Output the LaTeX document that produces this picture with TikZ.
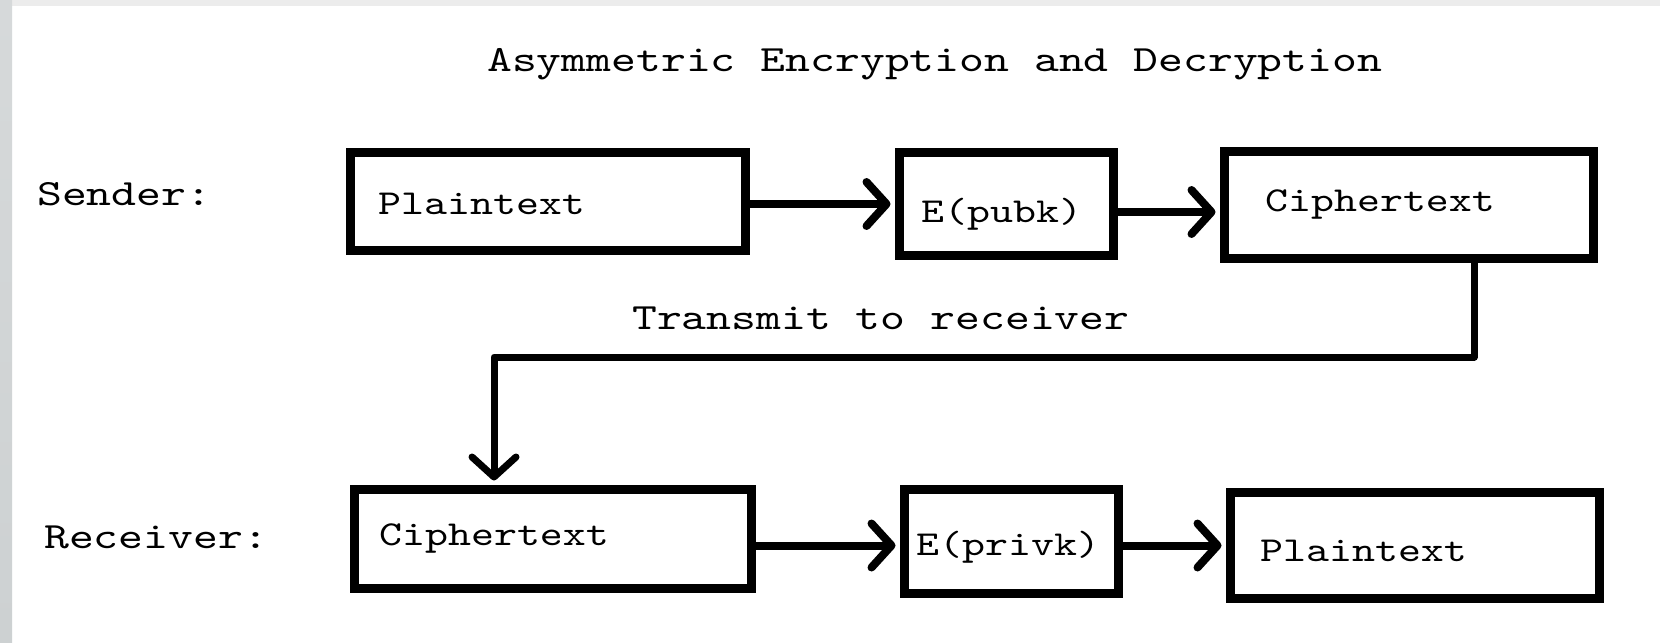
\documentclass[tikz,border=0pt]{standalone}
\usepackage{fontspec}
\usetikzlibrary{arrows.meta}
\newfontfamily\capfont[FakeStretch=1.28]{lmmono10-regular.otf}
\newfontfamily\boxfont[FakeStretch=1.25]{lmmono10-regular.otf}
\definecolor{edgegrey}{HTML}{D6D9DA}
\definecolor{edgegreylow}{HTML}{CDD1D2}
\definecolor{topgrey}{HTML}{ECECEC}
\tikzset{
  x=1bp, y=-1bp,
  box/.style={draw=black, line width=9bp, rectangle, inner sep=0pt},
  boxtext/.style={anchor=base west, inner sep=0pt, font=\boxfont\fontsize{35bp}{40bp}\selectfont},
  caption/.style={anchor=base west, inner sep=0pt, font=\capfont\fontsize{37bp}{42bp}\selectfont},
  tip/.style={-{Straight Barb[length=20bp,width=44bp,round]}, shorten >=4.5bp},
  flow/.style={line width=8bp, tip},
  relay/.style={line width=7bp, line join=round, tip}
}
\begin{document}
\begin{tikzpicture}
  % page and its grey frame
  \fill[white] (0,0) rectangle (1660,643);
  \useasboundingbox (0,0) rectangle (1660,643);
  \fill[topgrey] (0,0) rectangle (1660,6);
  \shade[top color=edgegrey, bottom color=edgegreylow] (0,0) rectangle (12,643);

  % title and row labels
  \node[caption] (title) at (487,71.3) {Asymmetric Encryption and Decryption};
  \node[caption] (sender) at (37,205.3) {Sender:};
  \node[caption] (receiver) at (44,548.3) {Receiver:};
  \node[caption] (transmit) at (632,329.3) {Transmit to receiver};

  % sender row
  \node[box, minimum width=395bp, minimum height=98bp] (p1) at (548,201.5) {};
  \node[box, minimum width=214bp, minimum height=103bp] (e1) at (1006.5,204) {};
  \node[box, minimum width=369bp, minimum height=107bp] (c1) at (1409,205) {};
  \node[boxtext] (p1t) at (378,214.7) {Plaintext};
  \node[boxtext] (e1t) at (921,222.7) {E(pubk)};
  \node[boxtext] (c1t) at (1265,211.7) {Ciphertext};

  % receiver row
  \node[box, minimum width=397bp, minimum height=99bp] (c2) at (553,539) {};
  \node[box, minimum width=214bp, minimum height=104bp] (e2) at (1011.5,541.5) {};
  \node[box, minimum width=369bp, minimum height=106bp] (p2) at (1415,545.5) {};
  \node[boxtext] (c2t) at (379,545.7) {Ciphertext};
  \node[boxtext] (e2t) at (916,555.7) {E(privk)};
  \node[boxtext] (p2t) at (1260,561.7) {Plaintext};

  % sender flow
  \draw[flow] (p1.east |- e1.west) -- (e1.west);
  \draw[flow] ([yshift=-8bp]e1.east) -- ([yshift=-8bp]e1.east -| c1.west);

  % transmission to the receiver
  \coordinate (turn) at (494,357);
  \draw[relay] ([xshift=65bp]c1.south) |- (turn) -- (turn |- c2.north);

  % receiver flow
  \draw[flow] ([yshift=-4bp]e2.west -| c2.east) -- ([yshift=-4bp]e2.west);
  \draw[flow] (e2.east |- p2.west) -- (p2.west);
\end{tikzpicture}
\end{document}
